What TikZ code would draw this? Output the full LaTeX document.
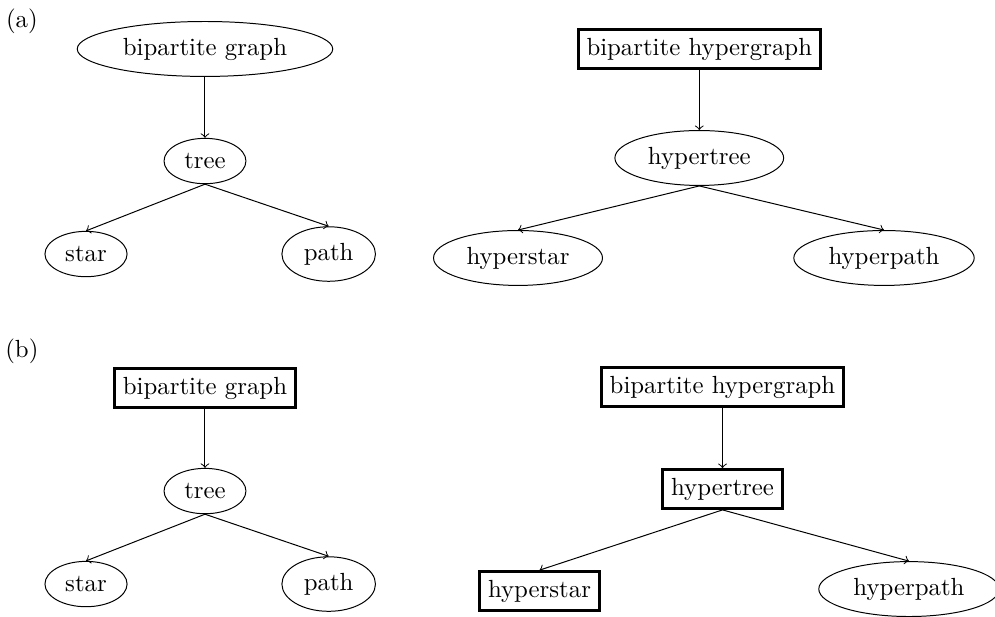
\documentclass[tikz,border=0pt]{standalone}
\usetikzlibrary{shapes.geometric}
\begin{document}
\begin{tikzpicture}

\tikzstyle{ell}=[draw, ellipse];
\tikzstyle{bx}=[draw, rectangle, very thick];

\useasboundingbox (0,0) rectangle (14.101,-8.744);

\begin{scope}
\node (labA) at (0.31,-0.30) {(a)};
\node[ell] (bgA) at (2.905,-0.694) {bipartite graph};
\node[ell] (treeA) at (2.905,-2.282) {tree};
\node[ell] (starA) at (1.219,-3.600) {star};
\node[ell] (pathA) at (4.658,-3.600) {path};
\draw[->] (bgA.south) -- (treeA.north);
\draw[->] (treeA.south) -- (starA.north);
\draw[->] (treeA.south) -- (pathA.north);

\node[bx] (hgA) at (9.91,-0.694) {bipartite hypergraph};
\node[ell] (htreeA) at (9.91,-2.239) {hypertree};
\node[ell] (hstarA) at (7.341,-3.656) {hyperstar};
\node[ell] (hpathA) at (12.528,-3.656) {hyperpath};
\draw[->] (hgA.south) -- (htreeA.north);
\draw[->] (htreeA.south) -- (hstarA.north);
\draw[->] (htreeA.south) -- (hpathA.north);
\end{scope}

\begin{scope}[yshift=-4.677cm]
\node (labB) at (0.31,-0.30) {(b)};
\node[bx] (bgB) at (2.905,-0.822) {bipartite graph};
\node[ell] (treeB) at (2.905,-2.282) {tree};
\node[ell] (starB) at (1.219,-3.600) {star};
\node[ell] (pathB) at (4.658,-3.600) {path};
\draw[->] (bgB.south) -- (treeB.north);
\draw[->] (treeB.south) -- (starB.north);
\draw[->] (treeB.south) -- (pathB.north);

\node[bx] (hgB) at (10.239,-0.808) {bipartite hypergraph};
\node[bx] (htreeB) at (10.239,-2.253) {hypertree};
\node[bx] (hstarB) at (7.646,-3.699) {hyperstar};
\node[ell] (hpathB) at (12.882,-3.671) {hyperpath};
\draw[->] (hgB.south) -- (htreeB.north);
\draw[->] (htreeB.south) -- (hstarB.north);
\draw[->] (htreeB.south) -- (hpathB.north);
\end{scope}
\end{tikzpicture}
\end{document}
